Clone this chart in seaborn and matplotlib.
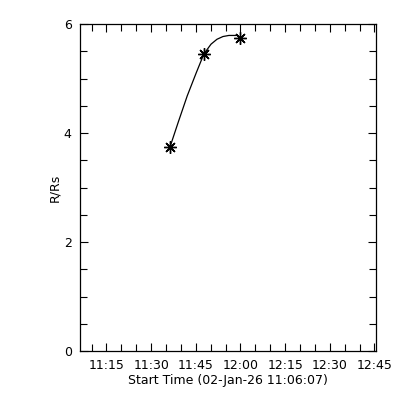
import pandas as pd
import seaborn as sns
import matplotlib.pyplot as plt
from matplotlib.ticker import FixedLocator, MultipleLocator

start_time = "11:06:07"
start_label = "02-Jan-26 11:06:07"

# measured points (asterisks)
point_times = ["11:36:19", "11:47:43", "11:59:49"]
point_r = [3.74, 5.45, 5.74]

# fitted curve
curve_times = ["11:36:19", "11:39:07", "11:42:07", "11:45:07", "11:47:43",
               "11:50:07", "11:52:07", "11:54:07", "11:56:07", "11:58:49"]
curve_r = [3.74, 4.20, 4.68, 5.10, 5.45, 5.63, 5.72, 5.77, 5.79, 5.79]

tick_labels = ["11:15", "11:30", "11:45", "12:00", "12:15", "12:30", "12:45"]


def minutes(s):
    t = pd.to_timedelta(s if s.count(":") == 2 else s + ":00")
    return (t - pd.to_timedelta(start_time)).total_seconds() / 60.0


pts = pd.DataFrame({"t": [minutes(s) for s in point_times], "r": point_r})
fit = pd.DataFrame({"t": [minutes(s) for s in curve_times], "r": curve_r})

sns.set_style("ticks")
plt.rcParams["font.family"] = ["DejaVu Sans"]
plt.rcParams["text.color"] = "black"
plt.rcParams["axes.labelcolor"] = "black"

fig = plt.figure(figsize=(4, 4), dpi=100)
ax = fig.add_axes([0.2, 0.1225, 0.74, 0.8175])

sns.lineplot(data=fit, x="t", y="r", ax=ax, color="black", linewidth=0.9,
             sort=False, estimator=None)
ax.plot(pts["t"], pts["r"], linestyle="none", marker=(8, 2, 0),
        markersize=9, markeredgecolor="black", markeredgewidth=1.0)

ax.set_xlim(0, 99.4)
ax.set_ylim(0, 6)

major = [minutes(s) for s in tick_labels]
ax.xaxis.set_major_locator(FixedLocator(major))
ax.set_xticklabels(tick_labels)
ax.xaxis.set_minor_locator(FixedLocator([m + d for m in [minutes("11:00")] + major for d in (5, 10)]))
ax.yaxis.set_major_locator(MultipleLocator(2))
ax.yaxis.set_minor_locator(MultipleLocator(0.5))
ax.yaxis.set_major_formatter(lambda v, p: f"{v:g}")

ax.tick_params(which="both", direction="in", top=True, right=True, color="black", width=0.8)
ax.tick_params(which="major", length=6, labelsize=9, pad=6, labelcolor="black")
ax.tick_params(which="minor", length=5)
for sp in ax.spines.values():
    sp.set_color("black")
    sp.set_linewidth(0.9)

ax.set_xlabel(f"Start Time ({start_label})", fontsize=9, labelpad=1)
ax.set_ylabel("R/Rs", fontsize=9, labelpad=2)

fig.savefig("out.png", dpi=100, facecolor="white")
